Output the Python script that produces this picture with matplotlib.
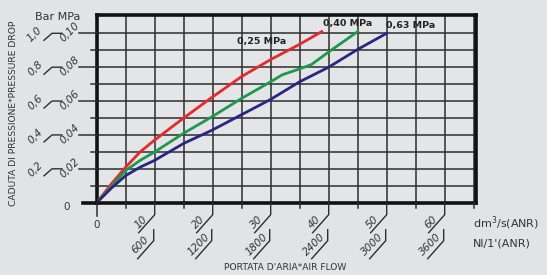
import matplotlib
matplotlib.use("Agg")
import matplotlib.pyplot as plt
from matplotlib.lines import Line2D

# ---- data ----
red_x = [0, 2.5, 5, 7.5, 10, 15, 20, 25, 30, 35, 38.8]
red_y = [0, 0.011, 0.021, 0.030, 0.037, 0.050, 0.0625, 0.0745, 0.0845, 0.0935, 0.101]
green_x = [0, 2.5, 5, 7.5, 10, 15, 20, 25, 30, 32, 35, 37, 40, 45]
green_y = [0, 0.0095, 0.019, 0.025, 0.030, 0.041, 0.051, 0.0616, 0.0714, 0.0755, 0.079, 0.0815, 0.089, 0.101]
blue_x = [0, 2.5, 5, 7.5, 10, 15, 20, 25, 30, 35, 40, 45, 50]
blue_y = [0, 0.0085, 0.016, 0.021, 0.025, 0.035, 0.043, 0.052, 0.061, 0.0714, 0.080, 0.0905, 0.100]
series_labels = ["0,25 MPa", "0,40 MPa", "0,63 MPa"]

x_major = [10, 20, 30, 40, 50, 60]
x_top_labels = ["10", "20", "30", "40", "50", "60"]
x_bot_labels = ["600", "1200", "1800", "2400", "3000", "3600"]
y_major = [0.02, 0.04, 0.06, 0.08, 0.10]
y_bar_labels = ["0,2", "0,4", "0,6", "0,8", "1,0"]
y_mpa_labels = ["0,02", "0,04", "0,06", "0,08", "0,10"]

W, H = 547, 275
BG = "#e2e3e5"
GRID = "#2e2e2e"

fig = plt.figure(figsize=(W / 100, H / 100), dpi=100, facecolor=BG)
ax = fig.add_axes([96.7 / W, 1 - 202.7 / H, (476 - 96.7) / W, (202.7 - 15) / H])
ax.set_facecolor("#e4e5e7")
ax.set_xlim(0, 65.4)
ax.set_ylim(0, 0.1108)

# grid
for gx in range(5, 66, 5):
    ax.axvline(gx, color=GRID, lw=1.1, zorder=1)
for i in range(1, 11):
    ax.axhline(i * 0.01, color=GRID, lw=1.1, zorder=1)

for s in ax.spines.values():
    s.set_linewidth(2.6)
    s.set_color("#111111")
ax.set_xticks([])
ax.set_yticks([])

ax.plot(red_x, red_y, color="#e8282a", lw=2.0, zorder=3, solid_joinstyle="round")
ax.plot(green_x, green_y, color="#1c9a4c", lw=2.0, zorder=3, solid_joinstyle="round")
ax.plot(blue_x, blue_y, color="#2a2585", lw=2.0, zorder=3, solid_joinstyle="round")

fig.canvas.draw()


def dpx(x, y):
    d = ax.transData.transform((x, y))
    return d[0], H - d[1]


def line(pts, lw=1.0, color=GRID):
    fig.add_artist(Line2D([p[0] / W for p in pts], [1 - p[1] / H for p in pts],
                          color=color, lw=lw, transform=fig.transFigure))


def text(px, py, s, **kw):
    fig.text(px / W, 1 - py / H, s, **kw)


# curve labels
ends = [(red_x[-1], red_y[-1]), (green_x[-1], green_y[-1]), (blue_x[-1], blue_y[-1])]
lab_off = [(-60, 10), (-10, -8), (24, -8)]
for (ex, ey), lab, (ox, oy) in zip(ends, series_labels, lab_off):
    px, py = dpx(ex, ey)
    text(px + ox, py + oy, lab, fontsize=6.8, fontweight="bold", color="#222222",
         ha="center", va="center")

# bottom axis extension and left axis extension
x0, y0 = dpx(0, 0)
line([(83, y0), (x0, y0)], lw=2.6, color="#111111")
line([(x0, y0), (x0, y0 + 13)], lw=1.1)
for gx in range(5, 66, 10):
    px, _ = dpx(gx, 0)
    line([(px, y0), (px, y0 + 5)], lw=1.1)

# x tick decorations
for v, t1, t2 in zip(x_major, x_top_labels, x_bot_labels):
    px, _ = dpx(v, 0)
    line([(px, y0), (px, y0 + 12), (px - 16, y0 + 30)], lw=1.0)
    line([(px - 1, y0 + 27), (px - 1, y0 + 38), (px - 17, y0 + 56)], lw=1.0)
    text(px - 14, y0 + 19, t1, fontsize=7.5, rotation=45, ha="center", va="center",
         style="italic", color="#333333")
    text(px - 14, y0 + 42, t2, fontsize=7.5, rotation=45, ha="center", va="center",
         style="italic", color="#333333")

text(x0, y0 + 22, "0", fontsize=7.5, ha="center", va="center", color="#333333")
text(67, y0 + 4, "0", fontsize=7.5, ha="center", va="center", color="#333333")

# y tick decorations
for v, b, m in zip(y_major, y_bar_labels, y_mpa_labels):
    _, py = dpx(0, v)
    line([(79, py), (x0, py)], lw=1.1)
    line([(44, py + 7), (52, py), (62, py)], lw=1.0)
    text(35, py + 1, b, fontsize=7.5, rotation=45, ha="center", va="center",
         style="italic", color="#333333")
    text(70, py - 1, m, fontsize=7.5, rotation=45, ha="center", va="center",
         style="italic", color="#333333")
for v in [0.01, 0.03, 0.05, 0.07, 0.09]:
    _, py = dpx(0, v)
    line([(91, py), (x0, py)], lw=1.1)

text(58, 17, "Bar MPa", fontsize=8, ha="center", va="center", color="#333333")
text(14, 113, "CADUTA DI PRESSIONE*PRESSURE DROP", fontsize=6.6, rotation=90,
     ha="center", va="center", color="#333333")
text(285, 268, "PORTATA D'ARIA*AIR FLOW", fontsize=6.6, ha="center", va="center",
     color="#333333")
text(473, 223, "dm$^3$/s(ANR)", fontsize=8, ha="left", va="center", color="#333333")
text(473, 243, "Nl/1'(ANR)", fontsize=8, ha="left", va="center", color="#333333")

fig.savefig("out.png", dpi=100, facecolor=BG)
